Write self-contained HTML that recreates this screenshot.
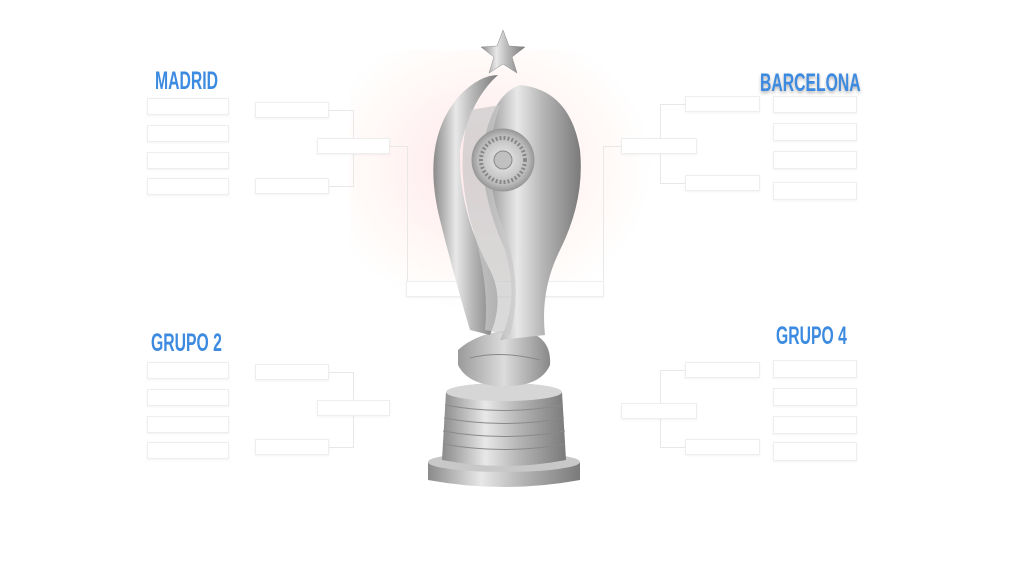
<!DOCTYPE html>
<html><head><meta charset="utf-8"><style>
*{margin:0;padding:0;box-sizing:border-box}
body{width:1024px;height:576px;background:#fff;position:relative;overflow:hidden;font-family:"Liberation Sans",sans-serif}
.b{position:absolute;border:1px solid #eee;background:#fff;box-shadow:0 1px 2px rgba(0,0,0,.05)}
.l{position:absolute;background:#e8e8e8}
.t{position:absolute;color:#3d8be0;font-weight:bold;font-size:25px;line-height:25px;transform:scaleX(.63);transform-origin:left top;white-space:nowrap}
</style></head><body>
<div style="position:absolute;left:350px;top:50px;width:300px;height:260px;background:radial-gradient(ellipse at 45% 45%,rgba(255,180,195,.35),rgba(255,215,200,.15) 50%,rgba(255,255,255,0) 72%)"></div>

<div class="t" style="left:155px;top:69px">MADRID</div>
<div class="t" style="left:760px;top:71px;text-shadow:0 2px 4px rgba(0,0,0,.3)">BARCELONA</div>
<div class="t" style="left:151px;top:331px">GRUPO 2</div>
<div class="t" style="left:776px;top:324px">GRUPO 4</div>

<div class="b" style="left:147px;top:98px;width:82px;height:17px"></div>
<div class="b" style="left:147px;top:125px;width:82px;height:17px"></div>
<div class="b" style="left:147px;top:152px;width:82px;height:17px"></div>
<div class="b" style="left:147px;top:178px;width:82px;height:17px"></div>
<div class="b" style="left:255px;top:102px;width:74px;height:16px"></div>
<div class="b" style="left:255px;top:178px;width:74px;height:16px"></div>
<div class="l" style="left:329px;top:110px;width:24px;height:1px"></div>
<div class="l" style="left:329px;top:186px;width:24px;height:1px"></div>
<div class="l" style="left:353px;top:110px;width:1px;height:77px"></div>
<div class="b" style="left:317px;top:138px;width:73px;height:16px"></div>
<div class="l" style="left:390px;top:146px;width:17px;height:1px"></div>
<div class="l" style="left:407px;top:146px;width:1px;height:135px"></div>

<div class="b" style="left:147px;top:362px;width:82px;height:17px"></div>
<div class="b" style="left:147px;top:389px;width:82px;height:17px"></div>
<div class="b" style="left:147px;top:416px;width:82px;height:17px"></div>
<div class="b" style="left:147px;top:442px;width:82px;height:17px"></div>
<div class="b" style="left:255px;top:364px;width:74px;height:16px"></div>
<div class="b" style="left:255px;top:439px;width:74px;height:16px"></div>
<div class="l" style="left:329px;top:372px;width:24px;height:1px"></div>
<div class="l" style="left:329px;top:447px;width:24px;height:1px"></div>
<div class="l" style="left:353px;top:372px;width:1px;height:76px"></div>
<div class="b" style="left:317px;top:400px;width:73px;height:16px"></div>

<div class="b" style="left:773px;top:96px;width:84px;height:17px"></div>
<div class="b" style="left:773px;top:123px;width:84px;height:18px"></div>
<div class="b" style="left:773px;top:151px;width:84px;height:18px"></div>
<div class="b" style="left:773px;top:182px;width:84px;height:18px"></div>
<div class="b" style="left:685px;top:96px;width:75px;height:16px"></div>
<div class="b" style="left:685px;top:175px;width:75px;height:16px"></div>
<div class="l" style="left:660px;top:104px;width:25px;height:1px"></div>
<div class="l" style="left:660px;top:183px;width:25px;height:1px"></div>
<div class="l" style="left:660px;top:104px;width:1px;height:80px"></div>
<div class="b" style="left:621px;top:138px;width:76px;height:16px"></div>
<div class="l" style="left:603px;top:146px;width:18px;height:1px"></div>
<div class="l" style="left:603px;top:146px;width:1px;height:135px"></div>

<div class="b" style="left:773px;top:360px;width:84px;height:18px"></div>
<div class="b" style="left:773px;top:388px;width:84px;height:18px"></div>
<div class="b" style="left:773px;top:416px;width:84px;height:18px"></div>
<div class="b" style="left:773px;top:442px;width:84px;height:19px"></div>
<div class="b" style="left:685px;top:362px;width:75px;height:16px"></div>
<div class="b" style="left:685px;top:439px;width:75px;height:16px"></div>
<div class="l" style="left:660px;top:370px;width:25px;height:1px"></div>
<div class="l" style="left:660px;top:447px;width:25px;height:1px"></div>
<div class="l" style="left:660px;top:370px;width:1px;height:78px"></div>
<div class="b" style="left:621px;top:403px;width:76px;height:16px"></div>

<div class="b" style="left:406px;top:281px;width:198px;height:16px"></div>

<svg width="1024" height="576" style="position:absolute;left:0;top:0">
<defs>
<linearGradient id="m" x1="0" x2="1"><stop offset="0" stop-color="#8a8a8a"/><stop offset=".35" stop-color="#e8e8e8"/><stop offset=".6" stop-color="#b8b8b8"/><stop offset="1" stop-color="#7a7a7a"/></linearGradient>
<linearGradient id="m2" x1="0" x2="1"><stop offset="0" stop-color="#9a9a9a"/><stop offset=".5" stop-color="#dcdcdc"/><stop offset="1" stop-color="#888"/></linearGradient>
<radialGradient id="md"><stop offset="0" stop-color="#eee"/><stop offset=".8" stop-color="#bbb"/><stop offset="1" stop-color="#999"/></radialGradient>
</defs>
<path d="M428 462 L580 462 L580 480 Q504 494 428 480 Z" fill="url(#m)"/>
<ellipse cx="504" cy="462" rx="76" ry="10" fill="#c8c8c8"/>
<path d="M446 392 L562 392 L566 460 Q504 472 442 460 Z" fill="url(#m)"/>
<ellipse cx="504" cy="392" rx="58" ry="9" fill="#d6d6d6"/>
<g stroke="#8a8a8a" stroke-width="1" fill="none">
<path d="M445 405 Q504 416 563 405"/><path d="M444 418 Q504 429 564 418"/><path d="M443 431 Q504 442 565 431"/><path d="M443 444 Q504 455 565 444"/></g>
<path d="M458 350 Q480 330 520 330 Q552 335 550 365 Q540 388 500 386 Q468 385 458 365 Z" fill="url(#m2)"/>
<path d="M470 358 Q500 350 540 360" stroke="#888" fill="none"/>
<path d="M470 330 Q455 280 440 220 Q420 140 460 95 Q480 75 498 75 Q470 100 460 150 Q458 210 490 270 Q505 300 490 335 Z" fill="url(#m)"/>
<path d="M520 85 Q570 90 580 150 Q585 200 560 250 Q540 290 545 335 L500 340 Q520 300 505 250 Q470 170 490 120 Q500 92 520 85 Z" fill="url(#m)"/>
<path d="M470 110 Q455 160 470 220 Q490 280 485 330 L510 335 Q525 280 500 220 Q480 160 500 105 Z" fill="#c9c9c9" opacity=".7"/>
<circle cx="503" cy="160" r="31" fill="url(#md)" stroke="#999"/>
<circle cx="503" cy="160" r="22" fill="none" stroke="#888" stroke-dasharray="2 2" stroke-width="4"/>
<circle cx="503" cy="160" r="9" fill="#c0c0c0" stroke="#888"/>
<path d="M503 30 L509 46 L525 47 L512 57 L517 73 L503 64 L489 73 L494 57 L481 47 L497 46 Z" fill="url(#m)" stroke="#888" stroke-width=".5"/>
</svg>
</body></html>
